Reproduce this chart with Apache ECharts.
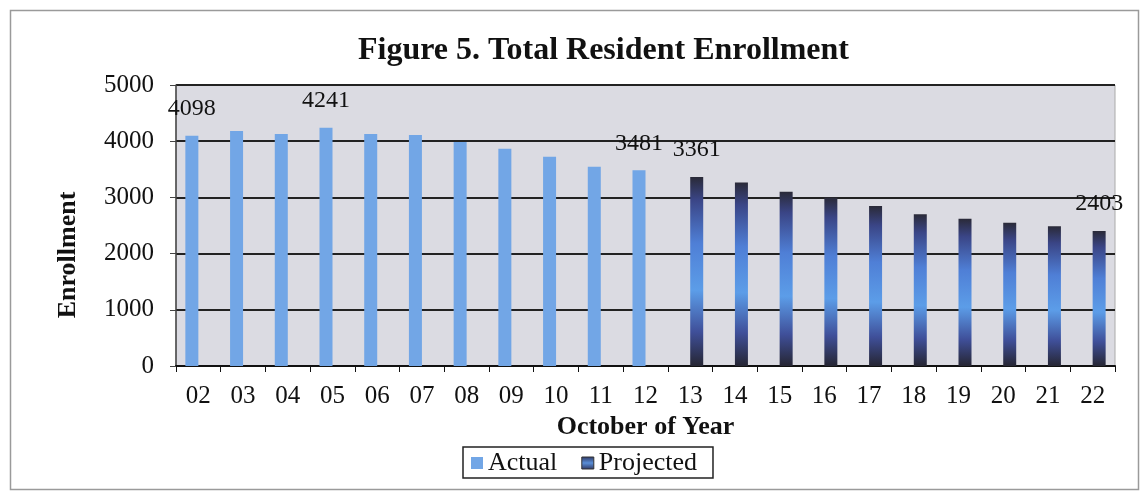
<!DOCTYPE html>
<html>
<head>
<meta charset="utf-8">
<script src="https://cdn.jsdelivr.net/npm/echarts@6/dist/echarts.min.js"></script>
<style>
html,body{margin:0;padding:0;background:#fff;}
#c{width:1144px;height:491px;}
</style>
</head>
<body>
<div id="c"></div>
<script>
var categories = ['02','03','04','05','06','07','08','09','10','11','12','13','14','15','16','17','18','19','20','21','22'];
var actual = [4098, 4180, 4130, 4241, 4130, 4110, 3985, 3865, 3725, 3545, 3481, null, null, null, null, null, null, null, null, null, null];
var projected = [null, null, null, null, null, null, null, null, null, null, null, 3361, 3265, 3100, 3000, 2845, 2700, 2620, 2550, 2485, 2403];
var actualLabeled = [0, 3, 10];
var projectedLabeled = [11, 20];
var yTicks = [0, 1000, 2000, 3000, 4000, 5000];

var FONT = "'Liberation Serif', 'Times New Roman', serif";
var projGrad = new echarts.graphic.LinearGradient(0, 0, 0, 1, [
  {offset: 0, color: '#2a2a38'},
  {offset: 0.12, color: '#3a4586'},
  {offset: 0.35, color: '#4f7fd6'},
  {offset: 0.6, color: '#5c9de8'},
  {offset: 0.82, color: '#3f4f99'},
  {offset: 1, color: '#262633'}
]);
var legendGrad = new echarts.graphic.LinearGradient(0, 0, 0, 1, [
  {offset: 0, color: '#2e3560'},
  {offset: 0.5, color: '#5a8fd8'},
  {offset: 1, color: '#2e3560'}
]);

function mk(arr, labeled) {
  return arr.map(function (v, i) {
    if (v === null) return '-';
    return {value: v, label: {show: labeled.indexOf(i) >= 0}};
  });
}

var chart = echarts.init(document.getElementById('c'));
chart.setOption({
  backgroundColor: '#ffffff',
  animation: false,
  graphic: [{
    type: 'rect', left: 8, top: 8, shape: {width: 1128, height: 479},
    style: {fill: 'none', stroke: '#9a9a9a', lineWidth: 1.5}, z: -10
  }, {
    type: 'text', x: 68, y: 255, rotation: Math.PI / 2,
    style: {text: 'Enrollment', fontFamily: FONT, fontWeight: 'bold', fontSize: 26, fill: '#111',
      textAlign: 'center', textVerticalAlign: 'middle'}
  }],
  title: {
    text: 'Figure 5. Total Resident Enrollment',
    left: 353, top: 30,
    textStyle: {fontFamily: FONT, fontWeight: 'bold', fontSize: 32, color: '#111'}
  },
  legend: {
    bottom: 13, left: 463,
    itemWidth: 12, itemHeight: 12, itemGap: 24,
    padding: [3, 16, 2, 8],
    borderColor: '#222', borderWidth: 1.5,
    textStyle: {fontFamily: FONT, fontSize: 26, color: '#111'},
    data: [
      {name: 'Actual', icon: 'rect', itemStyle: {color: '#72a6e6'}},
      {name: 'Projected', icon: 'rect', itemStyle: {color: legendGrad, borderColor: '#333', borderWidth: 1}}
    ]
  },
  grid: {left: 176, right: 29, top: 85, bottom: 125, show: true, backgroundColor: '#dbdbe2', borderColor: '#aaa', borderWidth: 1},
  xAxis: {
    type: 'category', data: categories,
    name: 'October of Year', nameLocation: 'middle', nameGap: 44,
    nameTextStyle: {fontFamily: FONT, fontWeight: 'bold', fontSize: 26, color: '#111'},
    axisLine: {lineStyle: {color: '#111', width: 2}},
    axisTick: {show: true, alignWithLabel: false, length: 6, lineStyle: {color: '#111'}},
    axisLabel: {fontFamily: FONT, fontSize: 25, color: '#111', margin: 18}
  },
  yAxis: {
    type: 'value', min: 0, max: 5000, interval: 1000,
    axisLine: {show: true, lineStyle: {color: '#444', width: 1.5}},
    axisTick: {show: true, length: 6, lineStyle: {color: '#444'}},
    axisLabel: {fontFamily: FONT, fontSize: 25, color: '#111', margin: 22,
      formatter: function (v) { return yTicks.indexOf(v) >= 0 ? String(v) : ''; }},
    splitLine: {lineStyle: {color: '#222', width: 2}}
  },
  series: [
    {
      name: 'Actual', type: 'bar', data: mk(actual, actualLabeled),
      barWidth: 13, barGap: '0%',
      itemStyle: {color: '#72a6e6'},
      label: {position: 'top', distance: 15, fontFamily: FONT, fontSize: 24, color: '#111'}
    },
    {
      name: 'Projected', type: 'bar', data: mk(projected, projectedLabeled),
      barWidth: 13, barGap: '0%',
      itemStyle: {color: projGrad},
      label: {position: 'top', distance: 15, fontFamily: FONT, fontSize: 24, color: '#111'}
    }
  ]
});
</script>
</body>
</html>
